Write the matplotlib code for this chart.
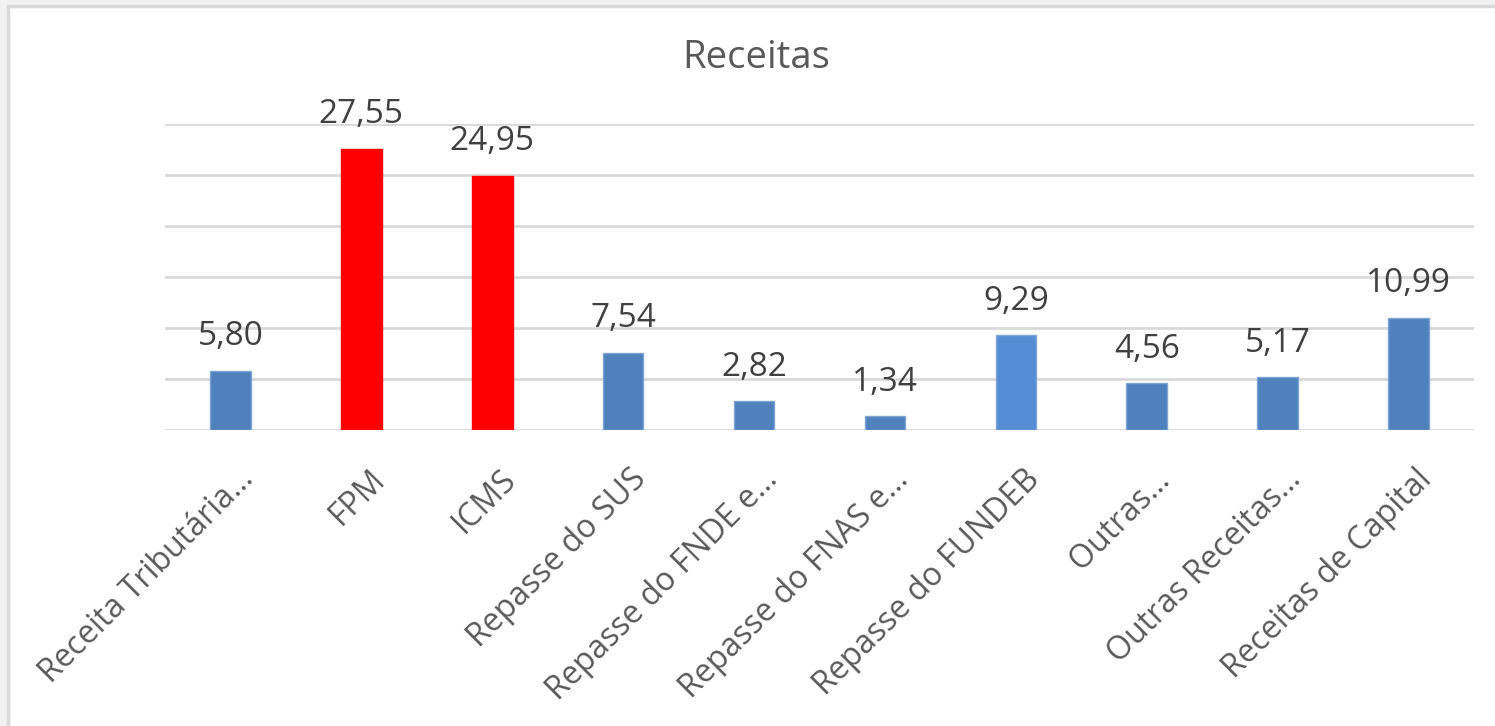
import matplotlib
matplotlib.use("Agg")
import matplotlib.pyplot as plt
from matplotlib.patches import Rectangle
from matplotlib.transforms import ScaledTranslation

categories = ["Receita Tributária…", "FPM", "ICMS", "Repasse do SUS", "Repasse do FNDE e…",
              "Repasse do FNAS e…", "Repasse do FUNDEB", "Outras…", "Outras Receitas…",
              "Receitas de Capital"]
values = [5.80, 27.55, 24.95, 7.54, 2.82, 1.34, 9.29, 4.56, 5.17, 10.99]
labels = ["5,80", "27,55", "24,95", "7,54", "2,82", "1,34", "9,29", "4,56", "5,17", "10,99"]
colors = ["#4F81BD", "#FF0000", "#FF0000", "#4F81BD", "#4F81BD", "#4F81BD",
          "#558ED5", "#4F81BD", "#4F81BD", "#4F81BD"]
edges = ["#7FA4D3", "#FF0000", "#FF0000", "#7FA4D3", "#7FA4D3", "#7FA4D3",
         "#7FA4D3", "#7FA4D3", "#7FA4D3", "#7FA4D3"]

plt.rcParams['font.family'] = ['Open Sans', 'DejaVu Sans']
W, H = 1495, 726
fig = plt.figure(figsize=(W / 100, H / 100), dpi=100, facecolor="#F2F2F2")
bg = fig.add_axes([0, 0, 1, 1], zorder=0)
bg.set_axis_off()
bg.set_xlim(0, 1)
bg.set_ylim(0, 1)
bg.add_patch(Rectangle((8 / W, -0.1), 1.1, (H - 6) / H + 0.1,
                       facecolor="white", edgecolor="#D9D9D9", linewidth=2.5))

ax = fig.add_axes([165 / W, (H - 430) / H, (1474 - 165) / W, (430 - 124) / H], zorder=1)
ax.set_facecolor("none")
x = list(range(len(categories)))
ax.bar(x, values, width=0.31, color=colors, edgecolor=edges, linewidth=1, zorder=3)
ax.set_xlim(-0.5, len(categories) - 0.5)
ax.set_ylim(0, 30)
ax.set_yticks([0, 5, 10, 15, 20, 25, 30])
ax.yaxis.grid(True, color="#D9D9D9", linewidth=2)
ax.set_axisbelow(True)
ax.tick_params(axis="y", left=False, labelleft=False)
ax.tick_params(axis="x", length=0, pad=0)
for s in ax.spines.values():
    s.set_visible(False)
ax.set_xticks(x)
ax.set_xticklabels(categories, rotation=45, ha="right", va="top", rotation_mode="anchor",
                   fontsize=23, color="#595959")
off = ScaledTranslation(7 / 100, -33 / 100, fig.dpi_scale_trans)
for t in ax.get_xticklabels():
    t.set_transform(t.get_transform() + off)

for xi, v, lab in zip(x, values, labels):
    ax.annotate(lab, (xi, v), xytext=(0, 18.5), textcoords="offset points",
                ha="center", va="baseline", fontsize=24, color="#404040")

fig.text(756 / W, 1 - 58 / H, "Receitas", ha="center", va="center", fontsize=27.5, color="#595959")

fig.savefig("out.png", dpi=100, facecolor=fig.get_facecolor())
